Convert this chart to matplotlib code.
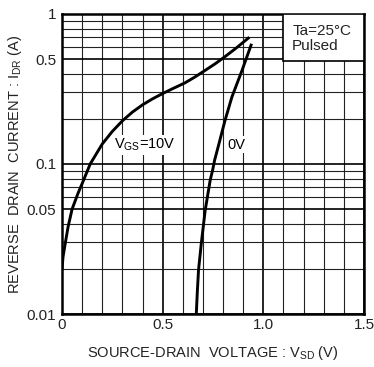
import matplotlib
matplotlib.use("Agg")
import matplotlib.pyplot as plt
from matplotlib.patches import Rectangle
from matplotlib.ticker import FixedLocator, FixedFormatter, MultipleLocator, LogLocator, NullFormatter

plt.rcParams["font.family"] = ["Liberation Sans", "DejaVu Sans"]
plt.rcParams["mathtext.fontset"] = "custom"
plt.rcParams["mathtext.rm"] = "Liberation Sans"

# reverse drain current vs source-drain voltage
vsd_10v = [0.0, 0.005, 0.015, 0.03, 0.05, 0.08, 0.1, 0.14, 0.2, 0.25, 0.3, 0.35, 0.4,
           0.45, 0.5, 0.55, 0.61, 0.66, 0.71, 0.76, 0.81, 0.87, 0.925]
idr_10v = [0.02, 0.024, 0.029, 0.038, 0.05, 0.064, 0.074, 0.1, 0.136, 0.165, 0.194, 0.222, 0.248,
           0.272, 0.295, 0.318, 0.347, 0.38, 0.42, 0.465, 0.52, 0.6, 0.69]

vsd_0v = [0.667, 0.672, 0.678, 0.692, 0.711, 0.736, 0.748, 0.758, 0.778, 0.81, 0.844, 0.894, 0.939]
idr_0v = [0.01, 0.014, 0.0196, 0.0297, 0.049, 0.078, 0.091, 0.106, 0.134, 0.196, 0.28, 0.42, 0.62]

x_ticks = [0, 0.5, 1.0, 1.5]
x_tick_labels = ["0", "0.5", "1.0", "1.5"]
y_ticks = [0.01, 0.05, 0.1, 0.5, 1]
y_tick_labels = ["0.01", "0.05", "0.1", "0.5", "1"]

fig = plt.figure(figsize=(3.74, 3.67), dpi=100)
ax = fig.add_axes([0.1658, 0.1444, 0.8075, 0.8175])

ax.plot(vsd_10v, idr_10v, color="black", lw=2.1, zorder=3)
ax.plot(vsd_0v, idr_0v, color="black", lw=2.1, zorder=3)

ax.set_yscale("log")
ax.set_xlim(0, 1.5)
ax.set_ylim(0.01, 1)

ax.xaxis.set_major_locator(FixedLocator(x_ticks))
ax.xaxis.set_major_formatter(FixedFormatter(x_tick_labels))
ax.xaxis.set_minor_locator(MultipleLocator(0.1))
ax.yaxis.set_major_locator(FixedLocator(y_ticks))
ax.yaxis.set_major_formatter(FixedFormatter(y_tick_labels))
ax.yaxis.set_minor_locator(LogLocator(base=10, subs=range(2, 10)))
ax.yaxis.set_minor_formatter(NullFormatter())

ax.tick_params(which="both", length=0, labelsize=11, colors="#222222")
ax.tick_params(axis="x", pad=3)
ax.tick_params(axis="y", pad=4)

ax.grid(which="major", color="black", lw=1.2)
ax.grid(which="minor", color="#222222", lw=0.8)
ax.set_axisbelow(True)
for spine in ax.spines.values():
    spine.set_linewidth(1.8)

ax.set_xlabel("SOURCE-DRAIN  VOLTAGE : $\\mathregular{V_{SD}}$ (V)", fontsize=10.5, color="#222222")
ax.xaxis.set_label_coords(0.5, -0.1)
ax.set_ylabel("REVERSE  DRAIN  CURRENT : $\\mathregular{I_{DR}}$ (A)", fontsize=10.5, color="#222222")
ax.yaxis.set_label_coords(-0.125, 0.5)

label_box = dict(facecolor="white", edgecolor="none", pad=1.0)
ax.text(0.413, 0.134, "$\\mathregular{V_{GS}}$=10V", fontsize=10.5, ha="center", va="center",
        bbox=label_box, zorder=2)
ax.text(0.866, 0.134, "0V", fontsize=10.5, ha="center", va="center", bbox=label_box, zorder=2)

# condition box in the top right corner
ax.add_patch(Rectangle((0.732, 0.843), 0.268, 0.157, transform=ax.transAxes,
                       facecolor="white", edgecolor="black", lw=1.2, zorder=4))
ax.text(0.762, 0.918, "Ta=25\u00b0C\nPulsed", transform=ax.transAxes, fontsize=11,
        ha="left", va="center", linespacing=1.05, color="#222222", zorder=5)

fig.savefig("out.png", dpi=100)
